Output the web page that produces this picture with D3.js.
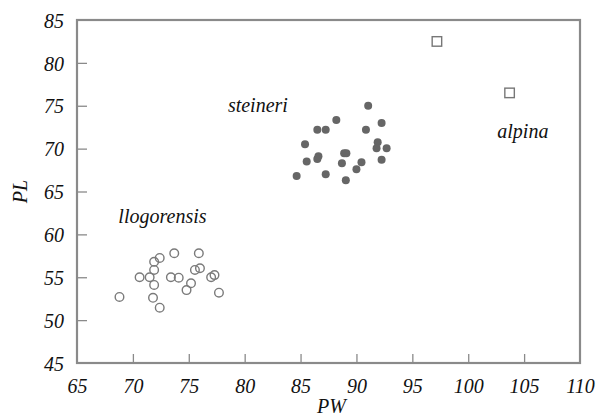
<!DOCTYPE html>
<html>
<head>
<meta charset="utf-8">
<script src="https://cdn.jsdelivr.net/npm/d3@7"></script>
<style>
  body { margin: 0; background: #fff; }
  svg text { font-family: "Liberation Serif", "DejaVu Serif", serif !important; font-style: italic !important; }
</style>
</head>
<body>
<div id="graph" style="width:597px;height:418px;"></div>
<script>
// values
const llogorensis_pw = [68.8, 70.6, 71.5, 71.9, 71.9, 72.4, 71.9, 71.8, 72.4, 73.7, 73.4, 74.1, 74.8, 75.2, 75.55, 75.9, 76.0, 77.0, 77.3, 77.7];
const llogorensis_pl = [52.7, 55.0, 55.0, 55.85, 56.8, 57.25, 54.1, 52.6, 51.45, 57.8, 55.0, 54.95, 53.5, 54.3, 55.85, 57.8, 56.05, 55.0, 55.25, 53.2];

const steineri_pw = [84.65, 85.4, 85.55, 86.5, 86.6, 86.5, 87.25, 88.2, 87.25, 88.7, 88.9, 89.1, 89.05, 90.0, 90.45, 90.85, 91.05, 92.25, 91.9, 91.8, 92.7, 92.25];
const steineri_pl = [66.8, 70.5, 68.5, 68.8, 69.1, 72.2, 72.2, 73.35, 67.0, 68.3, 69.45, 69.45, 66.3, 67.6, 68.4, 72.2, 75.0, 73.0, 70.75, 70.05, 70.05, 68.7];

const alpina_pw = [97.2, 103.7];
const alpina_pl = [82.5, 76.5];

const x_ticks = [65, 70, 75, 80, 85, 90, 95, 100, 105, 110];
const y_ticks = [45, 50, 55, 60, 65, 70, 75, 80, 85];

// group labels: [text, pw, pl] (pl = baseline position)
const group_labels = [["steineri", 78.5, 74.3], ["alpina", 102.6, 71.2], ["llogorensis", 68.7, 61.35]];

const width = 597, height = 418;
const margin = {left: 77, right: 17, top: 20, bottom: 55};
const axis_color = "#8a8a8a";
const serif = '"Liberation Serif", "DejaVu Serif", serif';

const svg = d3.select('#graph')
  .append('svg')
  .attr('width', width)
  .attr('height', height);

const x = d3.scaleLinear().domain([65, 110]).range([margin.left, width - margin.right]);
const y = d3.scaleLinear().domain([45, 85]).range([height - margin.bottom, margin.top]);

// frame
svg.append("rect")
  .attr("x", x(65)).attr("y", y(85))
  .attr("width", x(110) - x(65)).attr("height", y(45) - y(85))
  .attr("fill", "none").attr("stroke", axis_color).attr("stroke-width", 2.2);

// inward ticks
const xAxis = svg.append("g")
  .attr("transform", `translate(0, ${y(45)})`)
  .call(d3.axisBottom(x).tickValues(x_ticks).tickSize(-9).tickFormat(d => d).tickPadding(16));
const yAxis = svg.append("g")
  .attr("transform", `translate(${x(65)}, 0)`)
  .call(d3.axisLeft(y).tickValues(y_ticks).tickSize(-10).tickFormat(d => d).tickPadding(13));

[xAxis, yAxis].forEach(a => {
  a.attr("font-family", serif).attr("font-size", 20);
  a.select(".domain").remove();
  a.selectAll(".tick line").attr("stroke", axis_color).attr("stroke-width", 1.3);
  a.selectAll(".tick text").attr("fill", "#111")
    .attr("font-family", serif).attr("font-style", "italic");
});
// first/last ticks sit on the frame
xAxis.selectAll(".tick line").filter(d => d == 65 || d == 110).remove();
yAxis.selectAll(".tick line").filter(d => d == 45 || d == 85).remove();
yAxis.selectAll(".tick text").attr("dy", "0.36em");
xAxis.selectAll(".tick text").attr("dy", "0.71em");

// axis titles
svg.append("text")
  .attr("x", (x(65) + x(110)) / 2 + 3).attr("y", 413)
  .attr("text-anchor", "middle")
  .attr("font-family", serif).attr("font-style", "italic").attr("font-size", 20)
  .attr("fill", "#111")
  .text("PW");
svg.append("text")
  .attr("transform", `translate(27, ${y(65)}) rotate(-90)`)
  .attr("text-anchor", "middle")
  .attr("font-family", serif).attr("font-style", "italic").attr("font-size", 20)
  .attr("fill", "#111")
  .text("PL");

// points
svg.append("g").selectAll("circle")
  .data(d3.range(llogorensis_pw.length))
  .join("circle")
  .attr("cx", i => x(llogorensis_pw[i]))
  .attr("cy", i => y(llogorensis_pl[i]))
  .attr("r", 4.3)
  .attr("fill", "none").attr("stroke", "#7a7a7a").attr("stroke-width", 1.4);

svg.append("g").selectAll("circle")
  .data(d3.range(steineri_pw.length))
  .join("circle")
  .attr("cx", i => x(steineri_pw[i]))
  .attr("cy", i => y(steineri_pl[i]))
  .attr("r", 4)
  .attr("fill", "#666");

const sq = 9.5;
svg.append("g").selectAll("rect")
  .data(d3.range(alpina_pw.length))
  .join("rect")
  .attr("x", i => x(alpina_pw[i]) - sq / 2)
  .attr("y", i => y(alpina_pl[i]) - sq / 2)
  .attr("width", sq).attr("height", sq)
  .attr("fill", "none").attr("stroke", "#777").attr("stroke-width", 1.4);

// group labels
svg.append("g").selectAll("text")
  .data(group_labels)
  .join("text")
  .attr("x", d => x(d[1]))
  .attr("y", d => y(d[2]))
  .attr("font-family", serif).attr("font-style", "italic").attr("font-size", 20)
  .attr("fill", "#111")
  .text(d => d[0]);
</script>
</body>
</html>
